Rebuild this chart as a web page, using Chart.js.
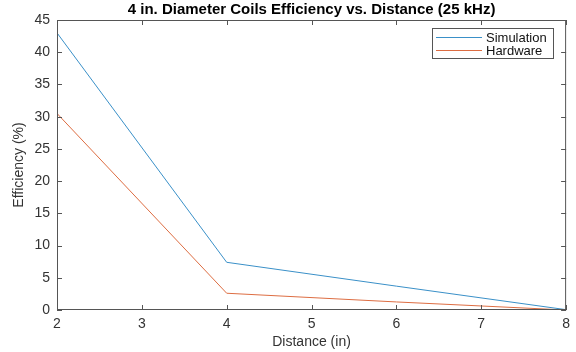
<!DOCTYPE html>
<html>
<head>
<meta charset="utf-8">
<script src="https://cdn.jsdelivr.net/npm/chart.js@4/dist/chart.umd.min.js"></script>
<style>
  html, body { margin: 0; padding: 0; background: #fff; }
  #wrap { width: 576px; height: 352px; }
</style>
</head>
<body>
<div id="wrap"><canvas id="effChart" width="576" height="352"></canvas></div>
<script>
// values
const distances = [2, 4, 6, 8];
const simulation = [43, 7.4, 3.7, 0.05];
const hardware = [30.5, 2.6, 1.25, 0];
const xTicks = [2, 3, 4, 5, 6, 7, 8];
const yTicks = [0, 5, 10, 15, 20, 25, 30, 35, 40, 45];

const axisColor = '#555555';
const labelColor = '#333333';
const fontFamily = 'Arial, "Liberation Sans", Helvetica, sans-serif';

function toPoints(xs, ys) {
    return xs.map(function (x, i) { return { x: x, y: ys[i] }; });
}

// MATLAB-like box, inward ticks on all four sides, and boxed legend
const matlabAxes = {
    id: 'matlabAxes',
    afterDraw(chart) {
        const ctx = chart.ctx;
        const a = chart.chartArea;
        const xs = chart.scales.x;
        const ys = chart.scales.y;
        const len = 5;
        ctx.save();
        ctx.strokeStyle = axisColor;
        ctx.lineWidth = 1;
        ctx.strokeRect(a.left + 0.5, a.top + 0.5, a.right - a.left - 1, a.bottom - a.top - 1);
        ctx.beginPath();
        xTicks.forEach(function (v) {
            const px = Math.round(xs.getPixelForValue(v)) + 0.5;
            ctx.moveTo(px, a.bottom); ctx.lineTo(px, a.bottom - len);
            ctx.moveTo(px, a.top); ctx.lineTo(px, a.top + len);
        });
        yTicks.forEach(function (v) {
            const py = Math.round(ys.getPixelForValue(v)) + 0.5;
            ctx.moveTo(a.left, py); ctx.lineTo(a.left + len, py);
            ctx.moveTo(a.right, py); ctx.lineTo(a.right - len, py);
        });
        ctx.stroke();

        // legend
        const lx = 432, ly = 28, lw = 121, lh = 30;
        ctx.fillStyle = '#fff';
        ctx.fillRect(lx, ly, lw, lh);
        ctx.strokeStyle = axisColor;
        ctx.strokeRect(lx + 0.5, ly + 0.5, lw, lh);
        ctx.font = '13px ' + fontFamily;
        ctx.textBaseline = 'middle';
        ctx.textAlign = 'left';
        chart.data.datasets.forEach(function (ds, i) {
            const yy = ly + 9 + i * 13;
            ctx.strokeStyle = ds.borderColor;
            ctx.beginPath();
            ctx.moveTo(lx + 4, yy + 0.5);
            ctx.lineTo(lx + 50, yy + 0.5);
            ctx.stroke();
            ctx.fillStyle = '#111';
            ctx.fillText(ds.label, lx + 54, yy + 1);
        });
        ctx.restore();
    }
};

new Chart(document.getElementById('effChart'), {
    type: 'line',
    data: {
        datasets: [{
            label: 'Simulation',
            data: toPoints(distances, simulation),
            borderColor: '#3a90c8',
            borderWidth: 1,
            pointRadius: 0,
            tension: 0
        }, {
            label: 'Hardware',
            data: toPoints(distances, hardware),
            borderColor: '#dd6d42',
            borderWidth: 1,
            pointRadius: 0,
            tension: 0
        }]
    },
    options: {
        responsive: false,
        animation: false,
        layout: { padding: { left: 0, right: 5, top: 0, bottom: 0 } },
        plugins: {
            legend: { display: false },
            tooltip: { enabled: false },
            title: {
                display: true,
                fullSize: false,
                text: '4 in. Diameter Coils Efficiency vs. Distance (25 kHz)',
                color: '#000',
                font: { family: fontFamily, size: 15, weight: 'bold' },
                padding: { top: 1, bottom: 1 }
            }
        },
        scales: {
            x: {
                type: 'linear',
                min: 2,
                max: 8,
                afterBuildTicks: function (scale) {
                    scale.ticks = xTicks.map(function (v) { return { value: v }; });
                },
                afterFit: function (scale) { scale.height = 42; },
                grid: { display: false, drawTicks: false },
                border: { display: false },
                ticks: {
                    color: labelColor,
                    padding: 6,
                    maxRotation: 0,
                    font: { family: fontFamily, size: 14 }
                },
                title: {
                    display: true,
                    text: 'Distance (in)',
                    color: labelColor,
                    padding: { top: 0, bottom: 1 },
                    font: { family: fontFamily, size: 14 }
                }
            },
            y: {
                type: 'linear',
                min: 0,
                max: 45,
                afterBuildTicks: function (scale) {
                    scale.ticks = yTicks.map(function (v) { return { value: v }; });
                },
                afterFit: function (scale) { scale.width = 57; },
                grid: { display: false, drawTicks: false },
                border: { display: false },
                ticks: {
                    color: labelColor,
                    padding: 7,
                    font: { family: fontFamily, size: 14 }
                },
                title: {
                    display: true,
                    text: 'Efficiency (%)',
                    color: labelColor,
                    padding: { top: 11, bottom: 0 },
                    font: { family: fontFamily, size: 14 }
                }
            }
        }
    },
    plugins: [matlabAxes]
});
</script>
</body>
</html>
